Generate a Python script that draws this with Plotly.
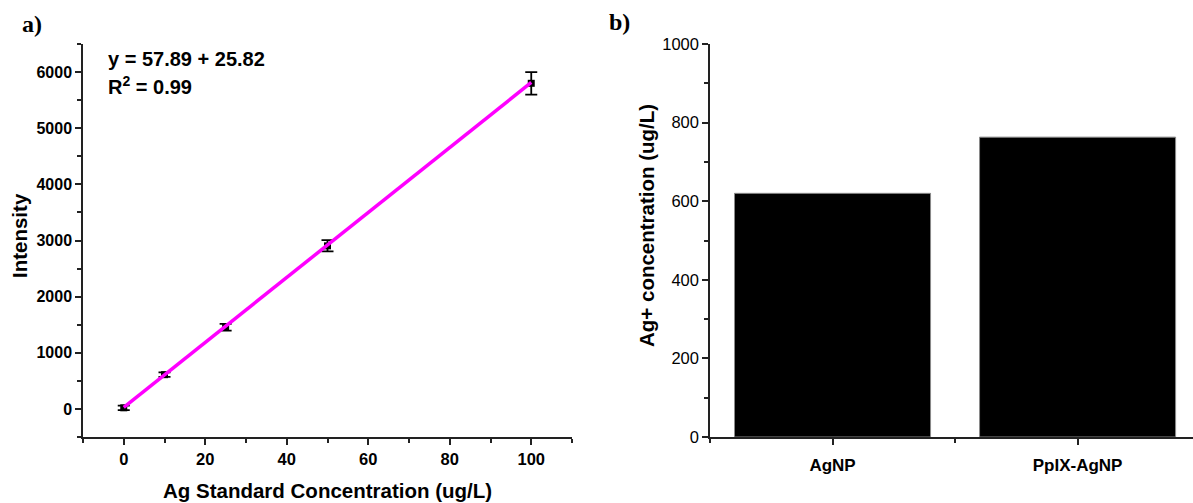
import plotly.graph_objects as go

# ---- data: panel a ----
conc = [0, 10, 25, 50, 100]
intensity = [20, 610, 1455, 2905, 5800]
intensity_err = [40, 40, 60, 100, 200]
fit_x = [0, 100]
fit_y = [26, 5815]

# ---- data: panel b ----
samples = ["AgNP", "PpIX-AgNP"]
ag_conc = [620, 763]
sample_pos = [0, 1]

W, H = 1193, 503
T, B = 44, 66
PH = H - T - B


def py(p):
    return (H - B - p) / PH


FONT = "Liberation Sans, Arial, sans-serif"

fig = go.Figure()

fig.add_trace(go.Scatter(
    x=conc, y=intensity, mode="markers",
    marker=dict(symbol="square", size=7, color="black"),
    error_y=dict(type="data", array=intensity_err, color="black", thickness=1.8, width=6),
    xaxis="x", yaxis="y", showlegend=False))

fig.add_trace(go.Scatter(
    x=fit_x, y=fit_y, mode="lines",
    line=dict(color="#FF00FF", width=3.5),
    xaxis="x", yaxis="y", showlegend=False))

fig.add_trace(go.Bar(
    x=sample_pos, y=ag_conc, width=0.8,
    marker=dict(color="black", line=dict(color="#8a8a8a", width=1)),
    xaxis="x2", yaxis="y2", showlegend=False))

axis_common = dict(showline=True, linecolor="#222", linewidth=1.5, ticks="outside",
                   tickcolor="#222", tickwidth=1.5, ticklen=6, showgrid=False, zeroline=False)

fig.update_layout(
    width=W, height=H,
    margin=dict(l=0, r=0, t=T, b=B),
    plot_bgcolor="white", paper_bgcolor="white",
    font=dict(family=FONT, color="black"),
    xaxis=dict(domain=[83 / W, 572 / W], range=[-10, 110], tickvals=[0, 20, 40, 60, 80, 100],
               tickfont=dict(size=16.5, weight="bold"),
               minor=dict(tickvals=[-10, 10, 30, 50, 70, 90, 110], ticks="outside", ticklen=4,
                          tickcolor="#222", tickwidth=1.5),
               anchor="y", **axis_common),
    yaxis=dict(domain=[0, 1], range=[-500, 6500], tickvals=[0, 1000, 2000, 3000, 4000, 5000, 6000],
               tickfont=dict(size=16, weight="bold"),
               minor=dict(dtick=500, tick0=0, ticks="outside", ticklen=4, tickcolor="#222", tickwidth=1.5),
               anchor="x", **axis_common),
    xaxis2=dict(domain=[710 / W, 1], range=[-0.5, 1.471], tickvals=sample_pos,
                ticktext=["AgNP", "PpIX-AgNP"],
                tickfont=dict(size=17, weight="bold"), ticklabelstandoff=6,
                minor=dict(tickvals=[-0.5, 0.5, 1.5], ticks="outside", ticklen=4,
                           tickcolor="#222", tickwidth=1.5),
                anchor="y2", **axis_common),
    yaxis2=dict(domain=[0, 1], range=[0, 1000], tickvals=[0, 200, 400, 600, 800, 1000],
                tickfont=dict(size=16.5),
                minor=dict(dtick=100, tick0=0, ticks="outside", ticklen=4, tickcolor="#222", tickwidth=1.5),
                anchor="x2", **axis_common),
)

ann = [
    dict(text="a)", x=20 / W, y=py(24), xanchor="left", yanchor="middle",
         font=dict(family="Liberation Serif, Times New Roman, serif", size=24, weight="bold")),
    dict(text="b)", x=607 / W, y=py(22), xanchor="left", yanchor="middle",
         font=dict(family="Liberation Serif, Times New Roman, serif", size=24, weight="bold")),
    dict(text="y = 57.89 + 25.82", x=106 / W, y=py(59), xanchor="left", yanchor="middle",
         font=dict(size=20, weight="bold")),
    dict(text="R<sup>2</sup> = 0.99", x=106 / W, y=py(86), xanchor="left", yanchor="middle",
         font=dict(size=20, weight="bold")),
    dict(text="Intensity", x=19 / W, y=py(236), textangle=-90, xanchor="center", yanchor="middle",
         font=dict(size=20.5, weight="bold")),
    dict(text="Ag Standard Concentration (ug/L)", x=327 / W, y=py(490), xanchor="center", yanchor="middle",
         font=dict(size=20.5, weight="bold")),
    dict(text="Ag+ concentration (ug/L)", x=646 / W, y=py(226), textangle=-90, xanchor="center",
         yanchor="middle", font=dict(size=20.5, weight="bold")),
]
for a in ann:
    a.update(xref="paper", yref="paper", showarrow=False)
fig.update_layout(annotations=ann)

fig.write_html("out.html")
